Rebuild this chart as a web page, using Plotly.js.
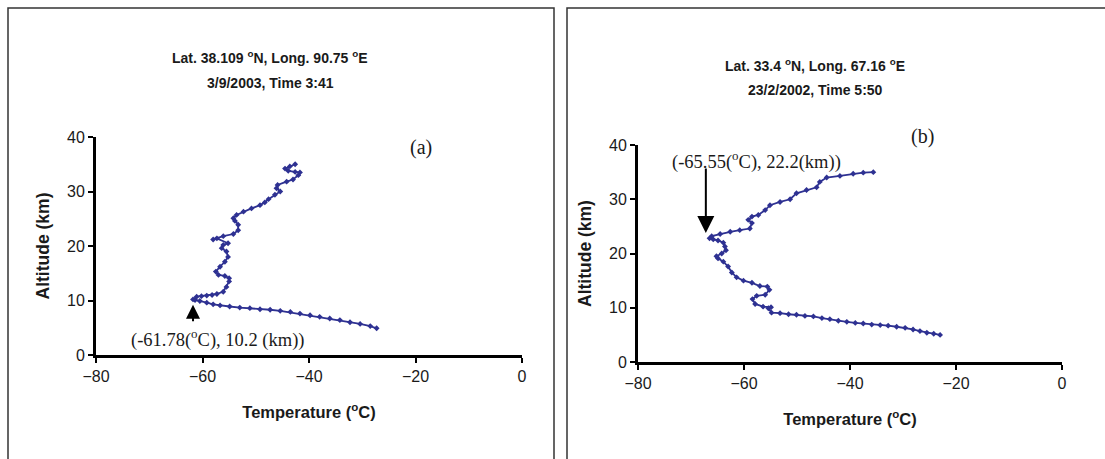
<!DOCTYPE html>
<html>
<head>
<meta charset="utf-8">
<script src="https://cdn.plot.ly/plotly-3.0.1.min.js"></script>
<style>html,body{margin:0;padding:0;background:#fff;}#chart{width:1105px;height:459px;}</style>
</head>
<body>
<div id="chart"></div>
<script>
// Panel (a): Lat. 38.109 N, Long. 90.75 E, 3/9/2003
const tempA = [-27.3,-28.5,-30.4,-32.3,-34.2,-36.1,-38.0,-39.8,-41.7,-43.5,-45.4,-47.3,-49.2,-51.1,-53.0,-54.9,-56.7,-58.0,-59.2,-60.5,-61.4,-61.78,
  -61.1,-60.2,-59.2,-58.2,-57.3,-56.1,-55.5,-55.0,-55.0,-55.8,-57.0,-57.5,-56.7,-55.8,-55.2,-55.5,-56.4,-56.1,-55.2,-57.3,-58.0,
  -56.1,-54.2,-53.3,-53.3,-53.9,-54.2,-53.6,-52.3,-50.8,-49.2,-48.3,-47.6,-46.4,-45.4,-46.1,-45.9,-44.2,-43.0,-42.0,-41.7,-42.6,-43.9,-44.5,-43.6,-42.6];
const altA = [4.9,5.3,5.7,6.0,6.4,6.7,7.0,7.3,7.6,7.9,8.1,8.3,8.4,8.6,8.7,8.9,9.1,9.3,9.6,9.9,10.1,10.2,
  10.7,10.8,10.9,11.0,11.2,11.6,12.5,13.5,14.1,14.5,14.7,15.3,16.2,17.1,18.0,19.0,19.6,20.2,20.5,21.4,21.2,
  21.8,22.2,22.9,23.9,24.6,25.1,25.7,26.3,26.9,27.5,28.0,28.6,29.4,30.0,30.6,31.2,31.8,32.2,33.0,33.5,33.6,33.8,34.2,34.6,35.0];

// Panel (b): Lat. 33.4 N, Long. 67.16 E, 23/2/2002
const tempB = [-23.0,-24.2,-25.5,-26.8,-28.1,-29.6,-31.2,-32.8,-34.3,-35.9,-37.5,-39.0,-40.6,-42.2,-43.8,-45.3,-46.9,-48.5,-50.1,-51.6,-53.2,-54.8,-55.4,-54.9,-56.4,-57.9,-58.4,-57.6,-56.0,-55.2,-55.6,-57.0,
  -58.5,-60.1,-61.4,-62.3,-63.0,-63.9,-64.9,-65.2,-64.2,-63.4,-63.6,-63.9,-64.9,-65.8,-66.5,-66.1,-64.5,-62.6,-60.8,-58.9,-58.5,-59.2,-58.5,
  -57.3,-56.0,-55.1,-53.2,-51.3,-50.1,-48.2,-46.3,-45.7,-44.4,-41.9,-39.4,-37.5,-35.6];
const altB = [5.0,5.2,5.4,5.7,6.0,6.3,6.5,6.7,6.8,6.9,7.1,7.2,7.4,7.6,7.9,8.1,8.4,8.5,8.7,8.8,9.0,9.1,9.9,10.1,10.2,10.7,11.6,12.2,12.4,13.3,13.9,14.0,
  14.6,15.0,15.6,16.5,17.6,18.5,19.1,19.5,20.0,20.6,21.3,22.0,22.4,22.6,22.8,23.2,23.6,24.0,24.3,24.6,25.6,26.2,26.8,
  27.1,28.0,28.9,29.5,30.0,31.1,31.7,32.2,33.2,34.0,34.3,34.7,34.9,35.0];

const xTicks = [-80,-60,-40,-20,0];
const yTicks = [0,10,20,30,40];
const titleA1 = "Lat. 38.109 <sup>o</sup>N, Long. 90.75 <sup>o</sup>E";
const titleA2 = "3/9/2003, Time 3:41";
const titleB1 = "Lat. 33.4 <sup>o</sup>N, Long. 67.16 <sup>o</sup>E";
const titleB2 = "23/2/2002, Time 5:50";
const noteA = "(-61.78(<sup>o</sup>C), 10.2 (km))";
const noteB = "(-65.55(<sup>o</sup>C), 22.2(km))";
const xTitle = "<b>Temperature (<sup>o</sup>C)</b>";
const yTitle = "<b>Altitude (km)</b>";

const W = 1105, H = 459;
const px = v => v / W;
const py = v => 1 - v / H;
const lineColor = "#2e3192";

const traceStyle = {
  mode: "lines+markers",
  line: {color: lineColor, width: 1.8},
  marker: {color: lineColor, size: 4.5, symbol: "diamond"},
  hoverinfo: "skip",
  showlegend: false
};

const data = [
  Object.assign({x: tempA, y: altA, xaxis: "x", yaxis: "y"}, traceStyle),
  Object.assign({x: tempB, y: altB, xaxis: "x2", yaxis: "y2"}, traceStyle)
];

const sans = "Liberation Sans, Arial, sans-serif";
const tickFont = {family: sans, size: 16, color: "#1a1a1a"};
const xTitleFont = {family: sans, size: 16.5, color: "#1a1a1a"};
const yTitleFont = {family: sans, size: 17.5, color: "#1a1a1a"};

function xAxis(domain, anchor) {
  return {
    domain: domain, anchor: anchor, range: [-80, 0], tickvals: xTicks,
    showgrid: false, zeroline: false, showline: true, linecolor: "#000", linewidth: 3,
    ticks: "outside", ticklen: 5, tickwidth: 2, tickcolor: "#000",
    tickfont: tickFont, fixedrange: true,
    title: {text: xTitle, font: xTitleFont, standoff: 23}
  };
}
function yAxis(domain, anchor) {
  return {
    domain: domain, anchor: anchor, range: [0, 40], tickvals: yTicks,
    showgrid: false, zeroline: false, showline: true, linecolor: "#000", linewidth: 3,
    ticks: "outside", ticklen: 5, tickwidth: 2, tickcolor: "#000",
    tickfont: tickFont, fixedrange: true,
    title: {text: yTitle, font: yTitleFont, standoff: 13}
  };
}

const serif = {family: "Liberation Serif, Times New Roman, serif", color: "#1a1a1a"};
const headFont = {family: sans, size: 14, color: "#1a1a1a", weight: "bold"};

function txt(x, y, text, font) {
  return {xref: "paper", yref: "paper", x: px(x), y: py(y), text: text, showarrow: false,
    xanchor: "center", yanchor: "middle", font: font};
}

const layout = {
  width: W, height: H,
  margin: {l: 0, r: 0, t: 0, b: 0},
  paper_bgcolor: "#fff", plot_bgcolor: "#fff",
  xaxis: xAxis([px(96), px(522)], "y"),
  yaxis: yAxis([py(355), py(137)], "x"),
  xaxis2: xAxis([px(638), px(1062)], "y2"),
  yaxis2: yAxis([py(362), py(145)], "x2"),
  shapes: [
    {type: "path", xref: "paper", yref: "paper",
     path: `M ${px(8)} 0 L ${px(8)} ${py(8)} L ${px(554)} ${py(8)} L ${px(554)} 0`,
     line: {color: "#333", width: 1.5}},
    {type: "path", xref: "paper", yref: "paper",
     path: `M ${px(567)} 0 L ${px(567)} ${py(8)} L 1 ${py(8)}`,
     line: {color: "#333", width: 1.5}}
  ],
  annotations: [
    txt(270, 57, titleA1, headFont),
    txt(270, 83, titleA2, headFont),
    txt(815, 65, titleB1, headFont),
    txt(815, 90, titleB2, headFont),
    txt(421, 147, "(a)", Object.assign({size: 20}, serif)),
    txt(922, 136, "(b)", Object.assign({size: 20}, serif)),
    txt(217, 338, noteA, Object.assign({size: 18.5}, serif)),
    txt(756, 160, noteB, Object.assign({size: 18.5}, serif)),
    {xref: "x", yref: "y", x: -61.78, y: 9.2, ax: 0, ay: 18, text: "", showarrow: true,
     arrowhead: 2, arrowsize: 1.4, arrowwidth: 2, arrowcolor: "#000"},
    {xref: "x2", yref: "y2", x: -67.2, y: 23.8, ax: 0, ay: -66, text: "", showarrow: true,
     arrowhead: 2, arrowsize: 1.7, arrowwidth: 2, arrowcolor: "#000"}
  ]
};

Plotly.newPlot("chart", data, layout, {staticPlot: true, displayModeBar: false});
</script>
</body>
</html>
